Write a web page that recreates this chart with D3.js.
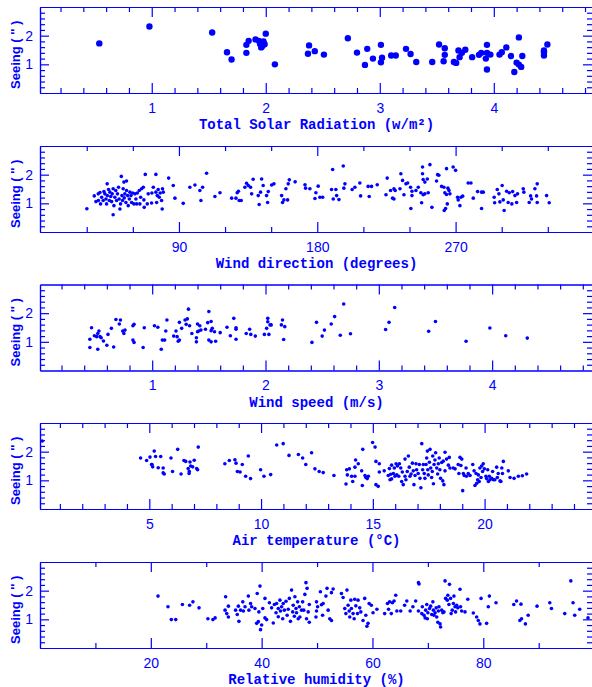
<!DOCTYPE html>
<html>
<head>
<meta charset="utf-8">
<script src="https://cdn.jsdelivr.net/npm/d3@7"></script>
<style>
  body { margin: 0; background: #fff; }
  svg { display: block; }
</style>
</head>
<body>
<script>
const WIDTH  = 592;
const HEIGHT = 687;
const LEFT   = 40;
const RIGHT  = 593;   // right frame sits just outside the picture
const PANEL_H = 86;
const BLUE = "#0000ff";

// ---- data (seeing in arcsec vs. each weather quantity) ----
const solarTicks = [1, 2, 3, 4];
const solarPoints = [
  [0.54,1.73],[0.98,2.32],[1.53,2.11],[1.66,1.42],[1.70,1.17],[1.83,1.40],[1.83,1.68],[1.85,1.82],
  [1.91,1.87],[1.94,1.82],[1.95,1.71],[1.96,1.59],[1.98,1.80],[1.99,1.70],[2.00,2.07],[1.97,1.64],
  [2.08,1.00],[2.37,1.37],[2.38,1.66],[2.43,1.46],[2.51,1.34],[2.72,1.91],[2.80,1.41],[2.89,1.54],
  [2.87,0.98],[2.94,1.20],[3.01,1.68],[3.02,1.23],[3.01,1.07],[3.10,1.31],[3.14,1.31],[3.23,1.54],
  [3.27,1.36],[3.32,1.08],[3.46,1.08],[3.52,1.69],[3.57,1.56],[3.57,1.33],[3.56,1.11],[3.65,1.08],
  [3.67,1.05],[3.69,1.48],[3.70,1.25],[3.72,1.40],[3.75,1.51],[3.81,1.25],[3.87,1.33],[3.89,1.40],
  [3.94,1.68],[3.94,1.40],[3.93,1.20],[3.94,0.82],[3.97,1.34],[4.05,1.34],[4.07,1.42],[4.11,1.59],
  [4.15,1.29],[4.22,1.94],[4.20,1.06],[4.22,0.99],[4.24,0.91],[4.18,0.73],[4.25,1.29],[4.44,1.42],
  [4.44,1.31],[4.44,1.48],[4.47,1.69]
];

const dirTicks = [90, 180, 270];
const dirPoints = [
  [30.1,0.81],[34.9,1.26],[36,1.06],[37.5,1.33],[37.6,1.10],[38.6,1.38],[39,0.98],[39.7,1.21],
  [40.7,1.10],[41.2,1.41],[41.8,1.33],[42.5,1.15],[42.9,0.98],[43.3,1.68],[43.4,1.27],[44.2,1.48],
  [44.7,1.10],[45.1,1.39],[45.6,1.24],[46.2,1.06],[46.6,1.33],[47.2,0.60],[47.2,1.51],[47.7,0.92],
  [48.3,1.21],[48.9,1.45],[49.4,1.10],[50,1.33],[50.7,1.56],[51.1,1.15],[51.6,0.80],[52,0.98],
  [52.5,1.94],[52.9,1.27],[53.3,1.10],[53.7,1.51],[54.2,1.74],[54.4,1.19],[54.8,1.33],[55.5,1.03],
  [55.9,1.78],[55.9,1.45],[56.6,1.27],[57,0.92],[57.7,1.15],[58.1,1.39],[58.8,1.27],[59.2,1.03],
  [59.9,1.36],[60.7,0.98],[61.4,1.33],[62,1.15],[62.5,0.98],[62.9,1.36],[64.2,1.45],[64.6,0.98],
  [65.1,1.21],[65.7,1.51],[66.8,1.56],[67.2,1.12],[67.4,0.86],[68.1,2.01],[69.4,0.98],[70,1.33],
  [72.2,1.01],[72.4,1.36],[73.3,1.56],[75,2.01],[75,1.39],[75.5,1.03],[75.9,1.27],[76.5,1.48],
  [77.2,1.21],[77.8,1.36],[78.7,1.10],[79.1,0.80],[79.3,1.51],[79.8,1.39],[83.3,1.88],[86.3,1.62],
  [87.4,1.18],[92.8,1.0],[97.1,1.56],[100.4,1.64],[103.6,1.45],[104.3,1.10],[105.4,1.56],[108,2.05],
  [113.4,1.24],[116.7,1.37],[124.3,1.18],[127.1,1.18],[127.9,1.37],[128.7,1.42],[129.2,1.10],[130.5,1.10],
  [132.9,1.56],[134,1.70],[135.1,1.62],[136.6,1.56],[137.3,1.33],[138.3,1.84],[141.6,1.27],[142.2,0.96],
  [143.1,1.39],[143.8,1.85],[144.8,1.62],[147,1.27],[147.7,1.03],[148.1,1.41],[150.3,1.64],[151.8,1.68],
  [156.8,1.27],[157.4,1.03],[158.3,1.12],[159.6,1.51],[160.7,1.12],[161.1,1.68],[161.8,1.82],[165.6,1.75],
  [172,1.65],[172.4,1.53],[175.2,1.51],[178.5,1.17],[179.1,1.37],[180.6,1.60],[181.7,1.21],[183.5,1.21],
  [189.3,1.48],[190,2.18],[190.4,1.15],[192.1,1.48],[192.6,1.27],[194.1,1.13],[196.9,2.30],[197.3,1.53],
  [198,1.68],[202.7,1.48],[204.5,1.56],[207.7,1.71],[208.2,1.26],[213.1,1.59],[213.8,1.24],[215.3,1.59],
  [219,1.65],[224.7,1.30],[225.5,1.88],[227.7,1.45],[229,1.18],[229.9,1.51],[229.9,1.15],[230.7,1.45],
  [233.8,1.51],[234.4,2.03],[235.5,1.80],[236.4,1.30],[237.7,1.68],[238.8,1.71],[240.7,1.56],[240.9,0.82],
  [241.6,1.42],[241.6,1.27],[244.2,1.45],[245.7,1.56],[247.4,1.37],[247.9,1.02],[248.5,2.27],[248.5,2.03],
  [248.9,1.83],[248.9,1.30],[250,1.74],[250,1.33],[251.6,1.85],[252.2,1.37],[253.3,2.35],[254.6,0.86],
  [257.6,1.78],[258.3,2.0],[259.1,1.98],[260.9,1.59],[262.4,1.56],[262.6,0.75],[263,1.37],[263.5,0.82],
  [264.1,2.21],[264.1,1.31],[264.6,0.98],[265,1.53],[265.7,1.45],[266.3,1.33],[268.4,2.27],[270,2.15],
  [271.3,1.21],[271.7,1.12],[272.8,0.92],[273.5,1.21],[274.6,1.25],[278.2,1.71],[280,1.71],[281.5,1.18],
  [284.3,1.41],[286.9,0.82],[286.9,1.39],[288,1.39],[295.1,1.21],[295.4,1.02],[297.1,1.48],[298.2,1.33],
  [298.8,1.05],[300.3,1.62],[301,1.12],[301.6,0.75],[303.2,1.42],[304.2,1.03],[304.9,1.37],[306.6,0.98],
  [307.1,1.41],[308.6,1.27],[309.7,1.03],[310.3,1.33],[314,1.51],[314.4,1.39],[317.9,1.03],[318.8,1.26],
  [319.4,1.15],[321.6,1.51],[322.7,1.26],[323.1,1.68],[323.1,1.03],[329.2,1.27],[330.9,1.02]
];

const speedTicks = [1, 2, 3, 4];
const speedPoints = [
  [0.45,1.09],[0.45,0.80],[0.465,1.49],[0.49,1.21],[0.51,1.18],[0.52,0.74],[0.52,1.29],[0.53,1.38],
  [0.54,1.18],[0.55,1.14],[0.57,1.03],[0.60,0.88],[0.61,1.26],[0.64,1.47],[0.66,0.82],[0.68,1.78],
  [0.71,1.62],[0.72,1.76],[0.74,1.38],[0.75,1.29],[0.76,1.41],[0.83,1.56],[0.83,1.06],[0.84,0.98],
  [0.84,1.61],[0.92,0.80],[0.93,1.49],[1.02,1.56],[1.05,1.51],[1.08,0.74],[1.09,1.06],[1.11,1.06],
  [1.12,1.38],[1.13,1.76],[1.19,1.20],[1.21,1.38],[1.22,1.18],[1.23,1.02],[1.24,1.06],[1.24,1.68],
  [1.26,1.47],[1.29,1.76],[1.30,1.61],[1.31,1.80],[1.32,2.14],[1.33,1.56],[1.35,1.29],[1.39,1.00],
  [1.39,1.14],[1.40,1.35],[1.40,1.62],[1.41,1.38],[1.42,1.56],[1.43,1.41],[1.47,1.44],[1.49,1.67],
  [1.50,2.06],[1.50,1.06],[1.52,1.00],[1.52,1.71],[1.52,1.39],[1.53,1.47],[1.55,1.35],[1.56,1.02],
  [1.60,1.32],[1.66,1.51],[1.69,1.21],[1.72,1.82],[1.74,1.44],[1.74,1.49],[1.74,1.09],[1.83,1.29],
  [1.86,1.44],[1.87,1.26],[1.91,1.20],[1.99,1.26],[2.01,1.47],[2.02,1.82],[2.02,1.70],[2.03,1.26],
  [2.04,1.59],[2.05,1.59],[2.14,1.59],[2.15,1.76],[2.16,1.08],[2.17,1.53],[2.41,0.98],[2.45,1.68],
  [2.50,1.20],[2.52,1.41],[2.58,1.62],[2.61,1.88],[2.66,1.23],[2.69,2.32],[2.75,1.28],[3.06,1.43],
  [3.09,1.68],[3.14,2.20],[3.44,1.37],[3.50,1.71],[3.77,1.02],[3.98,1.48],[4.12,1.21],[4.31,1.13]
];

const tempTicks = [5, 10, 15, 20];
const tempPoints = [
  [0.21,2.37],[4.61,1.78],[4.88,1.69],[5.03,1.81],[5.10,1.55],[5.15,1.47],[5.22,2.02],[5.28,1.83],
  [5.12,1.55],[5.40,1.44],[5.51,1.83],[5.62,1.43],[5.62,1.26],[5.67,1.22],[5.97,1.78],[6.04,1.31],
  [6.27,2.08],[6.42,1.22],[6.55,1.69],[6.63,1.66],[6.74,1.41],[6.79,1.31],[6.78,1.24],[6.82,1.64],
  [6.85,1.50],[6.94,1.47],[7.01,1.70],[7.12,1.41],[7.19,2.16],[7.16,1.37],[8.38,1.58],[8.58,1.69],
  [8.83,1.72],[8.88,1.60],[8.94,1.31],[9.06,1.29],[9.16,1.55],[9.31,1.14],[9.43,1.85],[9.53,1.06],
  [9.98,1.37],[10.13,1.14],[10.43,1.20],[10.70,2.23],[10.99,2.28],[11.25,1.87],[11.67,1.90],[11.86,1.78],
  [12.0,1.55],[12.26,1.96],[12.41,1.40],[12.60,1.31],[12.78,1.27],[13.26,1.17],[13.80,0.87],[13.83,1.37],
  [13.86,1.19],[13.95,1.40],[14.05,1.14],[14.10,0.96],[14.20,1.46],[14.23,1.71],[14.20,1.14],[14.35,1.58],
  [14.50,1.33],[14.53,0.82],[14.55,2.08],[14.65,1.17],[14.69,1.10],[14.75,1.06],[14.80,1.14],[14.99,2.32],
  [15.10,2.16],[15.14,1.66],[15.14,0.85],[15.24,0.79],[15.29,1.58],[15.29,1.29],[15.51,1.33],[15.69,1.17],
  [15.74,1.41],[15.77,1.02],[15.80,1.21],[15.84,1.05],[15.84,1.53],[15.92,1.24],[15.96,1.43],[15.99,1.14],
  [16.04,1.58],[16.07,1.19],[16.10,1.50],[16.16,1.14],[16.19,1.58],[16.25,1.43],[16.29,0.96],[16.32,1.29],
  [16.36,0.85],[16.44,1.74],[16.44,1.14],[16.48,1.02],[16.54,1.31],[16.59,1.85],[16.63,1.46],[16.66,1.14],
  [16.71,1.22],[16.77,1.60],[16.81,1.33],[16.84,0.85],[16.89,1.17],[16.93,1.58],[16.96,1.37],[17.03,1.24],
  [17.08,1.55],[17.11,1.07],[17.15,0.74],[17.19,2.28],[17.23,1.37],[17.26,1.55],[17.30,1.24],[17.33,1.07],
  [17.38,1.55],[17.41,1.78],[17.44,2.02],[17.46,1.37],[17.48,1.19],[17.53,1.63],[17.56,2.08],[17.59,1.43],
  [17.63,1.10],[17.66,1.31],[17.68,1.85],[17.71,0.88],[17.74,1.55],[17.78,1.71],[17.81,1.96],[17.86,1.43],
  [17.90,1.22],[17.93,1.58],[17.97,1.78],[18.0,1.37],[18.03,1.07],[18.08,1.62],[18.13,0.98],[18.15,1.67],
  [18.18,0.85],[18.23,1.98],[18.23,1.33],[18.30,1.74],[18.38,1.53],[18.42,1.80],[18.45,1.43],[18.60,1.43],
  [18.68,1.40],[18.82,1.55],[18.85,1.24],[18.90,1.80],[18.94,1.52],[18.98,1.74],[19.02,0.64],[19.05,1.24],
  [19.09,1.17],[19.17,1.43],[19.19,1.14],[19.27,1.24],[19.35,1.17],[19.47,1.55],[19.53,1.33],[19.57,0.82],
  [19.62,1.24],[19.65,0.90],[19.69,1.02],[19.72,1.19],[19.76,0.96],[19.79,1.43],[19.84,1.10],[19.87,1.50],
  [19.91,1.31],[19.94,1.58],[19.99,1.40],[20.06,1.14],[20.09,1.06],[20.14,1.37],[20.17,0.96],[20.21,1.14],
  [20.24,1.02],[20.32,1.07],[20.36,1.31],[20.39,1.02],[20.46,1.02],[20.54,1.46],[20.57,1.10],[20.61,1.24],
  [20.69,0.98],[20.73,0.96],[20.77,1.43],[20.80,1.24],[20.84,1.66],[21.06,1.33],[21.14,1.10],[21.32,1.07],
  [21.51,1.14],[21.69,1.16],[21.88,1.22]
];

const humTicks = [20, 40, 60, 80];
const humPoints = [
  [21.3,1.81],[23.1,1.44],[23.7,0.99],[24.5,0.99],[25.7,1.52],[27.0,1.49],[27.6,1.61],[28.7,1.40],
  [30.3,1.02],[31.2,0.99],[31.6,1.05],[33.5,1.79],[33.4,1.32],[33.7,1.20],[34.0,1.46],[34.0,1.08],
  [35.3,1.32],[35.6,1.17],[35.8,1.46],[35.9,0.93],[36.2,1.32],[36.6,1.61],[36.7,1.29],[37.0,1.44],
  [37.6,1.81],[37.7,1.32],[38.0,1.55],[38.2,1.44],[38.8,1.38],[39.1,0.86],[39.2,1.90],[39.4,0.92],
  [39.5,1.26],[39.7,2.16],[39.8,0.64],[40.0,0.80],[40.2,1.38],[40.6,1.73],[40.6,1.05],[40.9,0.99],
  [41.4,1.58],[41.8,1.40],[42.1,0.87],[42.3,1.52],[42.6,1.23],[42.7,1.55],[43.0,1.38],[43.0,1.09],
  [43.3,1.67],[43.4,1.29],[43.6,1.44],[43.8,1.02],[43.9,1.55],[44.1,1.32],[44.4,1.63],[44.6,1.14],
  [44.8,1.35],[45.0,1.73],[45.2,0.93],[45.4,2.02],[45.6,1.26],[45.7,1.49],[45.9,1.11],[46.0,1.79],
  [46.2,1.38],[46.3,1.23],[46.5,1.61],[46.6,1.02],[46.8,1.44],[46.9,1.08],[47.2,1.32],[47.4,1.61],
  [47.6,1.32],[47.8,1.87],[48.0,2.28],[48.1,1.02],[48.2,2.08],[48.4,1.26],[48.6,0.90],[48.6,1.52],
  [49.9,1.61],[50.1,1.44],[49.9,1.29],[49.8,1.08],[50.6,1.96],[50.8,1.51],[51.0,1.14],[51.1,1.55],
  [51.6,1.81],[51.8,2.08],[52.0,1.32],[52.3,1.02],[52.6,0.96],[52.9,2.06],[52.6,1.93],[54.4,1.90],
  [54.7,1.76],[55.0,1.38],[55.2,1.20],[55.4,2.02],[55.6,1.49],[55.8,1.29],[55.9,1.08],[56.1,1.67],
  [56.2,1.38],[56.5,1.20],[56.7,1.02],[56.8,1.70],[57.0,1.47],[57.3,1.20],[57.4,1.67],[57.7,1.40],
  [57.9,1.26],[58.3,0.96],[58.6,1.73],[58.8,1.14],[59.0,0.76],[59.2,0.86],[59.4,1.55],[59.8,1.49],
  [60.1,1.23],[60.8,1.35],[62.2,1.20],[62.7,1.55],[62.9,1.35],[63.1,1.61],[63.4,1.20],[63.6,1.58],
  [63.9,1.64],[64.2,1.84],[64.4,1.29],[65.1,1.29],[65.8,1.49],[66.2,1.64],[66.8,1.29],[67.3,1.44],
  [67.8,1.64],[68.3,2.28],[68.4,2.23],[68.3,1.29],[68.9,1.20],[69.0,1.44],[69.3,1.14],[69.5,1.05],
  [69.6,1.32],[69.8,1.52],[69.9,1.02],[70.0,1.23],[70.3,1.38],[70.5,1.46],[70.7,1.17],[70.9,1.61],
  [71.0,1.32],[71.1,1.14],[71.3,1.23],[71.5,1.40],[71.6,1.08],[71.8,0.90],[71.9,1.29],[72.0,1.44],
  [72.2,0.84],[72.3,0.73],[72.5,1.32],[72.7,1.23],[72.9,1.26],[73.1,2.34],[73.2,1.73],[73.5,1.67],
  [73.6,1.84],[73.8,1.52],[73.9,2.22],[74.1,1.73],[74.2,1.20],[74.4,1.32],[74.6,1.55],[74.7,1.81],
  [74.9,1.44],[75.0,1.26],[75.2,1.49],[75.4,1.40],[75.8,2.05],[75.9,1.44],[76.1,1.29],[76.7,1.26],
  [77.2,1.70],[78.2,1.22],[78.8,1.08],[79.1,0.96],[79.4,0.84],[79.6,1.73],[80.6,0.86],[80.9,1.44],
  [81.1,1.81],[82.3,1.58],[85.5,1.52],[86.0,1.64],[86.8,1.53],[86.6,0.96],[86.9,1.02],[87.6,0.84],
  [88.1,1.14],[89.7,1.46],[92.0,1.58],[92.3,1.38],[94.7,1.20],[95.8,2.34],[96.2,1.58],[96.5,1.14],
  [97.4,1.35],[98.9,1.05]
];

const yTicks = [1, 2];

// one entry per stacked panel
const panels = [
  { top: 7,     domain: [0.02, 4.87],  ticks: solarTicks, minorStep: 0.2, points: solarPoints, r: 3.2,
    title: "Total Solar Radiation (w/m\u00b2)" },
  { top: 146,   domain: [-0.4, 359.4], ticks: dirTicks,   minorStep: 30,  points: dirPoints,   r: 1.8,
    title: "Wind direction (degrees)" },
  { top: 284.5, domain: [0.01, 4.89],  ticks: speedTicks, minorStep: 0.2, points: speedPoints, r: 1.8,
    title: "Wind speed (m/s)" },
  { top: 423,   domain: [0.11, 24.85], ticks: tempTicks,  minorStep: 1,   points: tempPoints,  r: 1.8,
    title: "Air temperature (\u00b0C)" },
  { top: 562,   domain: [0, 99.8],     ticks: humTicks,   minorStep: 10,  points: humPoints,   r: 1.8,
    title: "Relative humidity (%)" }
];

function minorTicks(domain, step, majors) {
  const out = [];
  for (let i = 1; i * step < domain[1]; i++) {
    const v = +(i * step).toFixed(4);
    if (v > domain[0] && !majors.some(m => Math.abs(m - v) < 1e-6)) out.push(v);
  }
  return out;
}

function setUpChart() {
  return d3.select("body").append("svg")
      .attr("width", WIDTH)
      .attr("height", HEIGHT);
}

function styleAxis(g) {
  g.attr("font-family", "'Liberation Sans', Arial, sans-serif")
   .attr("font-size", 14)
   .attr("color", BLUE);
  g.selectAll("line").attr("stroke-width", 1.2);
  g.selectAll("path.domain").attr("stroke-width", 1.2);
}

function addPanel(canvas, p) {
  const bottom = p.top + PANEL_H;
  const xScale = d3.scaleLinear().domain(p.domain).range([LEFT, RIGHT]);
  const yScale = d3.scaleLinear().domain([0, 3]).range([bottom, p.top]);
  const xMinor = minorTicks(p.domain, p.minorStep, p.ticks);
  const yMinor = minorTicks([0, 3], 0.2, yTicks);
  const fmt = d3.format("d");

  const g = canvas.append("g");

  // bottom axis with labels, ticks pointing inward
  g.append("g").attr("transform", "translate(0," + bottom + ")")
    .call(d3.axisBottom(xScale).tickValues(p.ticks).tickSize(-10).tickSizeOuter(0)
      .tickPadding(10).tickFormat(fmt))
    .call(styleAxis);
  g.append("g").attr("transform", "translate(0," + bottom + ")")
    .call(d3.axisBottom(xScale).tickValues(xMinor).tickSize(-5).tickSizeOuter(0).tickFormat(""))
    .call(styleAxis);

  // top axis, ticks only
  g.append("g").attr("transform", "translate(0," + p.top + ")")
    .call(d3.axisTop(xScale).tickValues(p.ticks).tickSize(-10).tickSizeOuter(0).tickFormat(""))
    .call(styleAxis);
  g.append("g").attr("transform", "translate(0," + p.top + ")")
    .call(d3.axisTop(xScale).tickValues(xMinor).tickSize(-5).tickSizeOuter(0).tickFormat(""))
    .call(styleAxis);

  // left axis with labels
  g.append("g").attr("transform", "translate(" + LEFT + ",0)")
    .call(d3.axisLeft(yScale).tickValues(yTicks).tickSize(-9).tickSizeOuter(0)
      .tickPadding(7).tickFormat(fmt))
    .call(styleAxis);
  g.append("g").attr("transform", "translate(" + LEFT + ",0)")
    .call(d3.axisLeft(yScale).tickValues(yMinor).tickSize(-5).tickSizeOuter(0).tickFormat(""))
    .call(styleAxis);

  // right axis, ticks only
  g.append("g").attr("transform", "translate(" + RIGHT + ",0)")
    .call(d3.axisRight(yScale).tickValues(yTicks).tickSize(-10).tickSizeOuter(0).tickFormat(""))
    .call(styleAxis);
  g.append("g").attr("transform", "translate(" + RIGHT + ",0)")
    .call(d3.axisRight(yScale).tickValues(yMinor).tickSize(-6).tickSizeOuter(0).tickFormat(""))
    .call(styleAxis);

  // axis titles
  g.append("text")
    .attr("x", (LEFT + RIGHT) / 2)
    .attr("y", bottom + 36)
    .attr("text-anchor", "middle")
    .attr("font-family", "'Liberation Mono', 'DejaVu Sans Mono', monospace")
    .attr("font-weight", "bold")
    .attr("font-size", 14)
    .attr("fill", BLUE)
    .text(p.title);

  g.append("text")
    .attr("transform", "translate(20," + (bottom - 4) + ") rotate(-90)")
    .attr("text-anchor", "start")
    .attr("font-family", "'Liberation Sans', Arial, sans-serif")
    .attr("font-weight", "bold")
    .attr("font-size", 13)
    .attr("fill", BLUE)
    .text("Seeing ( '' )");

  // the points
  g.append("g").selectAll("circle")
    .data(p.points)
    .enter()
    .append("circle")
      .attr("cx", d => xScale(d[0]))
      .attr("cy", d => yScale(d[1]))
      .attr("r", p.r)
      .attr("fill", BLUE);
}

// Main Code
const canvas = setUpChart();
panels.forEach(p => addPanel(canvas, p));
</script>
</body>
</html>
